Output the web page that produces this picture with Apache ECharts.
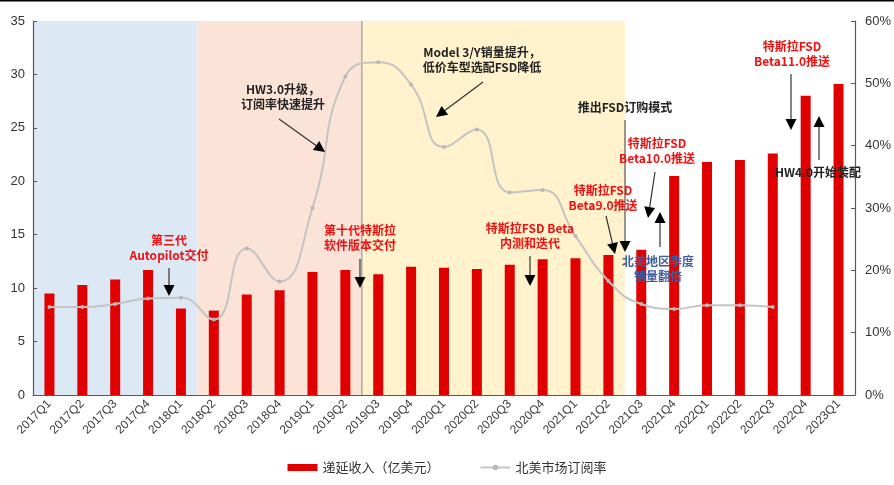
<!DOCTYPE html>
<html><head><meta charset="utf-8">
<script src="https://cdn.jsdelivr.net/npm/echarts@6/dist/echarts.min.js"></script>
<style>html,body{margin:0;padding:0;background:#fff}#c{width:894px;height:485px}</style>
</head><body><div id="c"></div>
<script>
const categories = ['2017Q1','2017Q2','2017Q3','2017Q4','2018Q1','2018Q2','2018Q3','2018Q4','2019Q1','2019Q2','2019Q3','2019Q4','2020Q1','2020Q2','2020Q3','2020Q4','2021Q1','2021Q2','2021Q3','2021Q4','2022Q1','2022Q2','2022Q3','2022Q4','2023Q1'];
const deferredRevenue = [9.5,10.3,10.8,11.7,8.1,7.9,9.4,9.8,11.5,11.7,11.3,12.0,11.9,11.8,12.2,12.7,12.8,13.1,13.6,20.5,21.8,22.0,22.6,28.0,29.1];
const subscriptionRate = [14.1,14.1,14.6,15.5,15.6,12.1,23.5,18.2,30.0,51.1,53.4,49.8,39.8,42.6,32.5,32.9,25.5,18.3,14.6,13.8,14.4,14.4,14.1,null,null];
const leftTicks = {min:0,max:35,interval:5};
const rightTicks = {min:0,max:60,interval:10};
const phases = [[0,4],[5,9],[10,17]];
const phaseColors = ['#dde8f5','#fbe4d7','#fff2cc'];

const chart = echarts.init(document.getElementById('c'));
const FONT = '"Noto Sans CJK SC","Noto Sans",sans-serif';
const AXFONT = '"Liberation Sans",Arial,sans-serif';

function txt(x,y,text,color){
  return {type:'text',x:x,y:y,z:100,style:{text:text,fill:color,font:'bold 12px '+FONT,textAlign:'center',textVerticalAlign:'top',lineHeight:15}};
}
function arrow(x1,y1,x2,y2,w){
  const dx=x2-x1, dy=y2-y1, L=Math.sqrt(dx*dx+dy*dy), ux=dx/L, uy=dy/L;
  const hl=11, hw=5.5;
  const bx=x2-ux*hl, by=y2-uy*hl;
  return [
    {type:'line',z:100,shape:{x1:x1,y1:y1,x2:bx,y2:by},style:{stroke:'#333',lineWidth:w||1.2}},
    {type:'polygon',z:100,shape:{points:[[x2,y2],[bx-uy*hw,by+ux*hw],[bx+uy*hw,by-ux*hw]]},style:{fill:'#000'}}
  ];
}
const RED='#ee1111', BLK='#222', BLU='#3f5c9e';
const graphics = [
  {type:'rect',z:100,shape:{x:0,y:0,width:894,height:1.5},style:{fill:'#000'}},
  txt(169,233,'第三代\nAutopilot交付',RED),
  ...arrow(169,268,169,296),
  txt(283,82,'HW3.0升级，\n订阅率快速提升',BLK),
  ...arrow(279,119,325,152),
  txt(360,223,'第十代特斯拉\n软件版本交付',RED),
  ...arrow(360,259,360,288),
  txt(482,45,'Model 3/Y销量提升，\n低价车型选配FSD降低',BLK),
  ...arrow(483,82,436,117),
  txt(530,221,'特斯拉FSD Beta\n内测和迭代',RED),
  ...arrow(530,256,530,286),
  txt(625,100,'推出FSD订购模式',BLK),
  ...arrow(625,120,625,252,1),
  txt(603,183,'特斯拉FSD\nBeta9.0推送',RED),
  ...arrow(606,216,615,254),
  txt(657,136,'特斯拉FSD\nBeta10.0推送',RED),
  ...arrow(655,172,648,218),
  ...arrow(660,247,660,212),
  txt(658,254,'北美地区季度\n销量翻倍',BLU),
  txt(792,39,'特斯拉FSD\nBeta11.0推送',RED),
  ...arrow(791,74,791,130),
  ...arrow(819,160,819,116),
  txt(818,165,'HW4.0开始装配',BLK)
];

chart.setOption({
  animation:false,
  textStyle:{fontFamily:FONT},
  grid:{left:33,right:39,top:21,bottom:90},
  legend:{bottom:6,left:'center',itemGap:40,textStyle:{fontSize:13,color:'#333'},
    data:[{name:'递延收入（亿美元）',icon:'rect'},{name:'北美市场订阅率'}],itemWidth:30,itemHeight:7},
  xAxis:{type:'category',data:categories,
    axisLine:{lineStyle:{color:'#595959',width:1.2}},
    axisTick:{inside:true,length:4,lineStyle:{color:'#595959'}},
    axisLabel:{rotate:45,fontSize:12,fontFamily:AXFONT,color:'#404040',interval:0,margin:7}},
  yAxis:[
    {type:'value',min:leftTicks.min,max:leftTicks.max,interval:leftTicks.interval,splitLine:{show:false},
     axisLine:{show:true,lineStyle:{color:'#595959',width:1.2}},axisTick:{show:true,inside:true,length:4},
     axisLabel:{fontSize:13,fontFamily:AXFONT,color:'#333',margin:8}},
    {type:'value',min:rightTicks.min,max:rightTicks.max,interval:rightTicks.interval,splitLine:{show:false},
     axisLine:{show:true,lineStyle:{color:'#595959',width:1.2}},axisTick:{show:true,inside:true,length:4},
     axisLabel:{fontSize:13,fontFamily:AXFONT,color:'#333',formatter:'{value}%',margin:10}}
  ],
  graphic:graphics,
  series:[
    {type:'custom',z:0,silent:true,data:phases.map((p,i)=>[p[0],p[1],i]),encode:{x:[0,1]},
     renderItem:function(params,api){
       const band=api.size([1,0])[0];
       const x0=api.coord([api.value(0),0])[0]-band/2;
       const x1=api.coord([api.value(1),0])[0]+band/2;
       const cs=params.coordSys;
       const idx=api.value(2);
       const children=[{type:'rect',shape:{x:x0,y:cs.y,width:x1-x0,height:cs.height},style:{fill:phaseColors[idx]}}];
       if(idx===2){children.push({type:'line',shape:{x1:x0,y1:cs.y,x2:x0,y2:cs.y+cs.height},style:{stroke:'#aaaaaa',lineWidth:1.5}});}
       return {type:'group',children:children};
     }},
    {name:'递延收入（亿美元）',type:'bar',data:deferredRevenue,barWidth:10,z:2,itemStyle:{color:'#e00000'}},
    {name:'北美市场订阅率',type:'line',yAxisIndex:1,data:subscriptionRate,smooth:0.5,z:3,
     symbol:'circle',symbolSize:4,lineStyle:{color:'#c4c4c4',width:2},itemStyle:{color:'#b8b8b8'}}
  ]
});
</script></body></html>
